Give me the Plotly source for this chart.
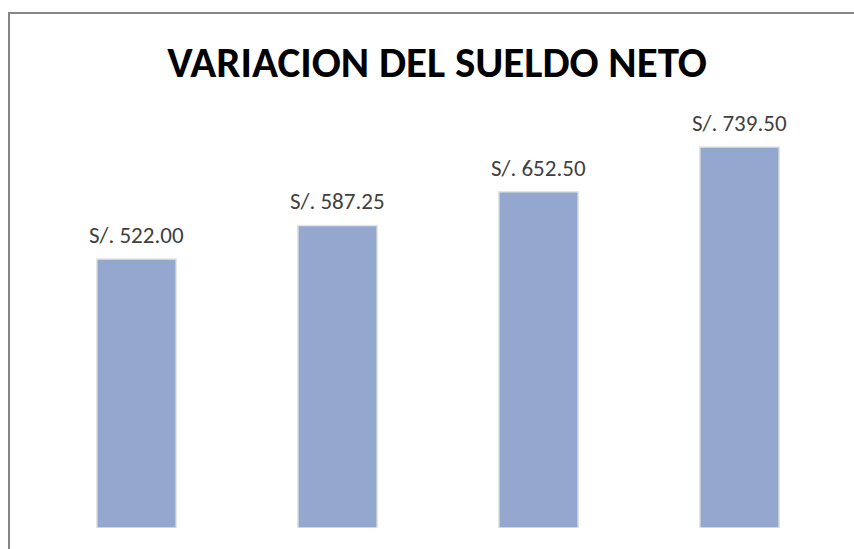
import plotly.graph_objects as go

categories = ["Mes 1", "Mes 2", "Mes 3", "Mes 4"]
values = [522.00, 587.25, 652.50, 739.50]
labels = ["S/. 522.00", "S/. 587.25", "S/. 652.50", "S/. 739.50"]
title_text = "VARIACION DEL SUELDO NETO"

fig = go.Figure()
fig.add_trace(go.Bar(
    x=categories, y=values,
    width=0.395,
    marker=dict(color="#94A8CF", line=dict(color="#E4E4E4", width=1.5)),
    hoverinfo="skip",
))

for c, v, t in zip(categories, values, labels):
    fig.add_annotation(x=c, y=v, text=t, showarrow=False, yanchor="bottom",
                       yshift=8, font=dict(family="Carlito, Lato, Liberation Sans", size=23, color="#404040"))

L, R, T, B = 36, 14, 100, 21
W, H = 854, 549
pw, ph = W - L - R, H - T - B
def px(x):
    return (x - L) / pw
def py(y):
    return (H - B - y) / ph

fig.add_shape(type="rect", xref="paper", yref="paper",
              x0=px(9), x1=px(870), y0=py(570), y1=py(13),
              line=dict(color="#868686", width=2), fillcolor="rgba(0,0,0,0)", layer="above")

fig.update_layout(
    width=W, height=H,
    margin=dict(l=L, r=R, t=T, b=B),
    paper_bgcolor="white", plot_bgcolor="white",
    title=dict(text="<b>" + title_text + "</b>", x=437 / W, xanchor="center",
               y=1 - 62 / H, yanchor="middle",
               font=dict(family="Carlito, Lato, Liberation Sans", size=43, color="#000000")),
    showlegend=False,
    xaxis=dict(type="category", range=[-0.5, 3.5], showticklabels=False, showgrid=False,
               zeroline=False, showline=False, ticks=""),
    yaxis=dict(range=[0, 428 / (269 / 522)], showticklabels=False, showgrid=False,
               zeroline=False, showline=False, ticks=""),
)

fig.write_html("out.html", config={"displayModeBar": False},
               post_script="document.body.style.margin='0';")
